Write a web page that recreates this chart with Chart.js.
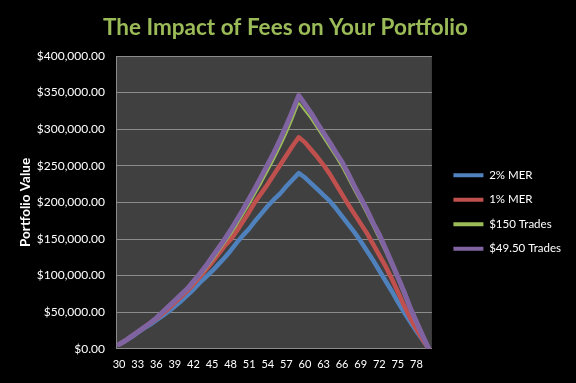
<!DOCTYPE html>
<html>
<head>
<meta charset="utf-8">
<script src="https://cdn.jsdelivr.net/npm/chart.js@4.4.1/dist/chart.umd.min.js"></script>
<style>
  html, body { margin: 0; padding: 0; background: #000; }
  #wrap { width: 576px; height: 383px; }
</style>
</head>
<body>
<div id="wrap"><canvas id="feeChart" width="576" height="383"></canvas></div>
<script>
// Ages on the x axis (every 3rd one is labelled)
const ages = [30, 31, 32, 33, 34, 35, 36, 37, 38, 39, 40, 41, 42, 43, 44, 45, 46, 47, 48, 49,
              50, 51, 52, 53, 54, 55, 56, 57, 58, 59, 60, 61, 62, 63, 64, 65, 66, 67, 68, 69,
              70, 71, 72, 73, 74, 75, 76, 77, 78, 79, 80];

// Portfolio value in thousands of dollars
const mer2 = [6, 11, 16, 22, 28, 33, 39, 45, 51, 58, 65, 73, 81, 90, 98, 106, 115, 124, 134, 145,
              155, 164, 175, 185, 195, 204, 212, 222, 231, 240, 234, 226, 218, 210, 202, 192, 181, 170, 159, 147,
              134, 121, 107, 93, 79, 64, 50, 37, 24, 12, 0];
const mer1 = [6, 11, 17, 23, 29, 35, 41, 48, 55, 63, 71, 79, 88, 98, 108, 118, 129, 140, 149, 161,
              174, 187, 201, 213, 225, 238, 251, 264, 277, 289, 282, 272, 262, 251, 239, 225, 211, 197, 184, 171,
              158, 143, 128, 113, 96, 78, 59, 42, 27, 13, 0];
const trades150 = [6, 11, 17, 23, 29, 35, 42, 49, 57, 64, 72, 80, 89, 99, 109, 120, 132, 144, 156, 169,
                   183, 197, 212, 227, 243, 259, 276, 294, 314, 336, 325, 314, 301, 288, 275, 262, 248, 232, 216, 200,
                   184, 167, 150, 132, 113, 94, 73, 52, 33, 16, 0];
const trades4950 = [6, 11, 17, 23, 29, 35, 42, 50, 58, 66, 74, 82, 92, 102, 113, 125, 137, 149, 162, 176,
                    190, 205, 220, 236, 252, 268, 286, 305, 325, 346, 334, 322, 308, 295, 282, 268, 255, 239, 222, 206,
                    190, 172, 156, 137, 118, 98, 78, 56, 37, 18, 0];

const seriesNames = ['2% MER', '1% MER', '$150 Trades', '$49.50 Trades'];
const seriesColors = ['#4F81BD', '#C0504D', '#9BBB59', '#8064A2'];
const seriesWidths = [4.5, 4.5, 2, 5];
const yTicks = [0, 50000, 100000, 150000, 200000, 250000, 300000, 350000, 400000];

const toDollars = arr => arr.map(v => v * 1000);

// dark plot area on a black page
const plotBackground = {
    id: 'plotBackground',
    beforeDraw(chart) {
        const { ctx, chartArea } = chart;
        ctx.save();
        ctx.fillStyle = '#000000';
        ctx.fillRect(0, 0, chart.width, chart.height);
        ctx.fillStyle = '#404040';
        ctx.fillRect(chartArea.left, chartArea.top, chartArea.right - chartArea.left, chartArea.bottom - chartArea.top);
        ctx.restore();
    }
};

function renderGraph() {
    const allSeries = [mer2, mer1, trades150, trades4950];
    const datasets = allSeries.map((s, i) => ({
        label: seriesNames[i],
        data: toDollars(s),
        borderColor: seriesColors[i],
        backgroundColor: seriesColors[i],
        borderWidth: seriesWidths[i],
        pointRadius: 0,
        tension: 0,
        borderJoinStyle: 'round',
        borderCapStyle: 'round',
        order: allSeries.length - i // last series drawn on top
    }));

    const ctx = document.getElementById('feeChart').getContext('2d');
    new Chart(ctx, {
        type: 'line',
        data: { labels: ages, datasets: datasets },
        plugins: [plotBackground],
        options: {
            responsive: false,
            animation: false,
            layout: { padding: { left: 0, right: 5, top: 0, bottom: 3 } },
            plugins: {
                title: {
                    display: true,
                    text: 'The Impact of Fees on Your Portfolio',
                    color: '#9BBB59',
                    font: { family: 'Lato', size: 22.5, weight: 'bold' },
                    padding: { top: 14, bottom: 15 }
                },
                legend: {
                    display: true,
                    position: 'right',
                    fullSize: false,
                    maxWidth: 200,
                    title: { display: true, text: '', font: { size: 11 }, padding: 3 },
                    labels: {
                        color: '#ffffff',
                        font: { family: 'Lato', size: 11.5 },
                        boxWidth: 30,
                        boxHeight: 4,
                        padding: 13,
                        sort: (a, b) => a.datasetIndex - b.datasetIndex,
                        generateLabels: chart => chart.data.datasets.map((ds, i) => ({
                            text: ds.label,
                            fillStyle: ds.borderColor,
                            strokeStyle: ds.borderColor,
                            lineWidth: 0,
                            fontColor: '#ffffff',
                            datasetIndex: i
                        }))
                    }
                },
                tooltip: { enabled: false }
            },
            scales: {
                x: {
                    offset: true,
                    grid: { display: false, drawTicks: false },
                    border: { display: true, color: '#8c8c8c', width: 1 },
                    ticks: {
                        color: '#ffffff',
                        font: { family: 'Lato', size: 11 },
                        autoSkip: false,
                        maxRotation: 0,
                        padding: 9,
                        callback: function (val, i) { return i % 3 === 0 ? String(ages[i]) : ''; }
                    }
                },
                y: {
                    min: 0,
                    max: 400000,
                    afterBuildTicks: axis => { axis.ticks = yTicks.map(v => ({ value: v })); },
                    afterFit: axis => { axis.width = 116; },
                    grid: { color: '#8c8c8c', lineWidth: 1, drawTicks: false },
                    border: { display: true, color: '#8c8c8c', width: 1 },
                    ticks: {
                        color: '#ffffff',
                        font: { family: 'Lato', size: 12 },
                        padding: 11,
                        callback: v => '$' + v.toLocaleString('en-US', { minimumFractionDigits: 2, maximumFractionDigits: 2 })
                    },
                    title: {
                        display: true,
                        text: 'Portfolio Value',
                        color: '#ffffff',
                        font: { family: 'Lato', size: 13.5, weight: 'bold' },
                        padding: { top: 18, bottom: 0 }
                    }
                },
                pad: {
                    position: 'right',
                    display: true,
                    grid: { display: false, drawTicks: false },
                    border: { display: false },
                    ticks: { display: false },
                    afterFit: axis => { axis.width = 8.5; }
                }
            }
        }
    });
}

document.addEventListener('DOMContentLoaded', renderGraph);
</script>
</body>
</html>
